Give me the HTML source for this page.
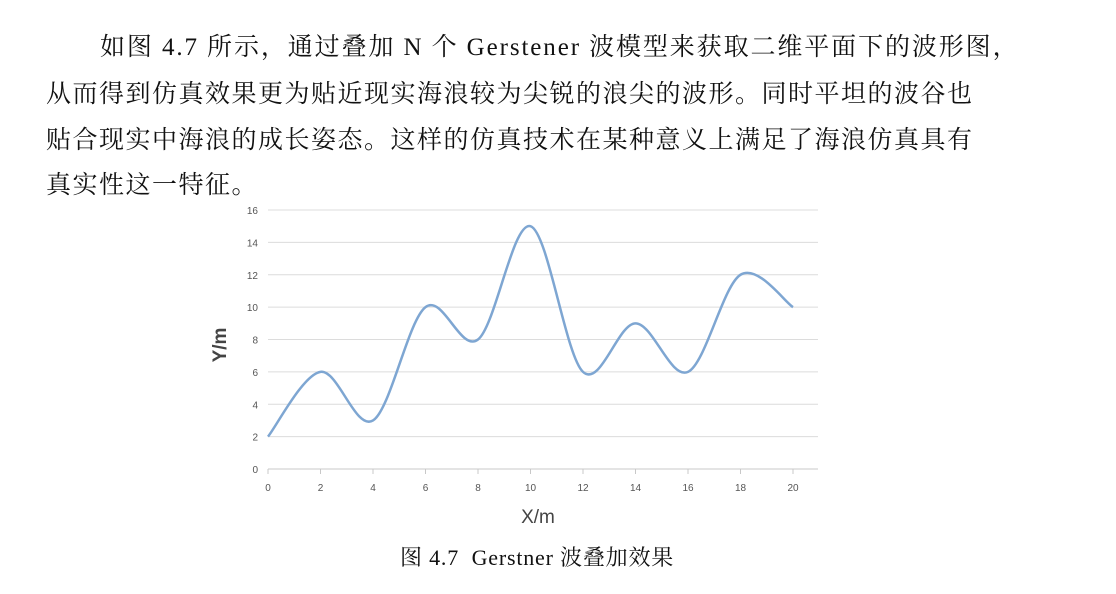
<!DOCTYPE html>
<html><head><meta charset="utf-8">
<style>
body{margin:0;width:1116px;height:594px;background:#fff;position:relative;overflow:hidden;font-family:"Liberation Serif","Noto Serif CJK SC",serif;color:#111}
.p{position:absolute;left:46px;font-size:25px;line-height:25px;white-space:nowrap;letter-spacing:1.5px}
svg{position:absolute;left:0;top:0}
</style></head><body>
<div class="p" style="top:35px;left:100px;letter-spacing:1.9px">如图 4.7 所示，通过叠加 N 个 Gerstener 波模型来获取二维平面下的波形图，</div>
<div class="p" style="top:82px">从而得到仿真效果更为贴近现实海浪较为尖锐的浪尖的波形。同时平坦的波谷也</div>
<div class="p" style="top:128px">贴合现实中海浪的成长姿态。这样的仿真技术在某种意义上满足了海浪仿真具有</div>
<div class="p" style="top:173px">真实性这一特征。</div>
<svg id="chart" width="1116" height="594"></svg>
<div style="position:absolute;top:546px;left:400px;font-size:22px;line-height:24px;white-space:nowrap;letter-spacing:0.8px">图 4.7&nbsp; Gerstner 波叠加效果</div>
<script>
const xValues=[0,2,4,6,8,10,12,14,16,18,20];
const yValues=[2,6,3,10,8,15,6,9,6,12,10];
const yTicks=[0,2,4,6,8,10,12,14,16];
const xTicks=[0,2,4,6,8,10,12,14,16,18,20];
const NS="http://www.w3.org/2000/svg";
const svg=document.getElementById('chart');
const X=v=>268+v*(793-268)/20;
const Y=v=>469-v*(469-210)/16;
function mk(t,a,txt){const e=document.createElementNS(NS,t);for(const k in a)e.setAttribute(k,a[k]);if(txt!==undefined)e.textContent=txt;svg.appendChild(e);return e;}
yTicks.forEach(t=>{
  if(t>0){const g=mk('line',{x1:268,x2:818,y1:Y(t),y2:Y(t),stroke:'#dcdcdc','stroke-width':1});
  
  }
  const l=mk('text',{x:258,y:Y(t)+4,'text-anchor':'end','font-size':10,fill:'#555','font-family':'Liberation Sans, sans-serif'},t);
  
  
});
const ax=mk('line',{x1:268,x2:818,y1:469,y2:469,stroke:'#c8c8c8','stroke-width':1});


xTicks.forEach(t=>{
  const k=mk('line',{x1:X(t),x2:X(t),y1:469,y2:474,stroke:'#c8c8c8'});
  
  
  const l=mk('text',{x:X(t),y:491,'text-anchor':'middle','font-size':10,fill:'#555','font-family':'Liberation Sans, sans-serif'},t);
  
  
});
const pts=xValues.map((x,i)=>[X(x),Y(yValues[i])]);
let d='M'+pts[0][0]+','+pts[0][1];
for(let i=0;i<pts.length-1;i++){
  const p0=pts[Math.max(0,i-1)],p1=pts[i],p2=pts[i+1],p3=pts[Math.min(pts.length-1,i+2)];
  const c1=[p1[0]+(p2[0]-p0[0])/6,p1[1]+(p2[1]-p0[1])/6];
  const c2=[p2[0]-(p3[0]-p1[0])/6,p2[1]-(p3[1]-p1[1])/6];
  d+=' C'+c1+' '+c2+' '+p2;
}
const line=mk('path',{d:d,fill:'none',stroke:'#7ea6d2','stroke-width':2.5});


const xt=mk('text',{x:538,y:523,'text-anchor':'middle','font-size':19,fill:'#444','font-family':'Liberation Sans, sans-serif'},'X/m');


const yt=mk('text',{x:0,y:0,'text-anchor':'middle','font-size':19,'font-weight':'bold',fill:'#444','font-family':'Liberation Sans, sans-serif',transform:'translate(226,345) rotate(-90)'},'Y/m');


</script>
</body></html>
